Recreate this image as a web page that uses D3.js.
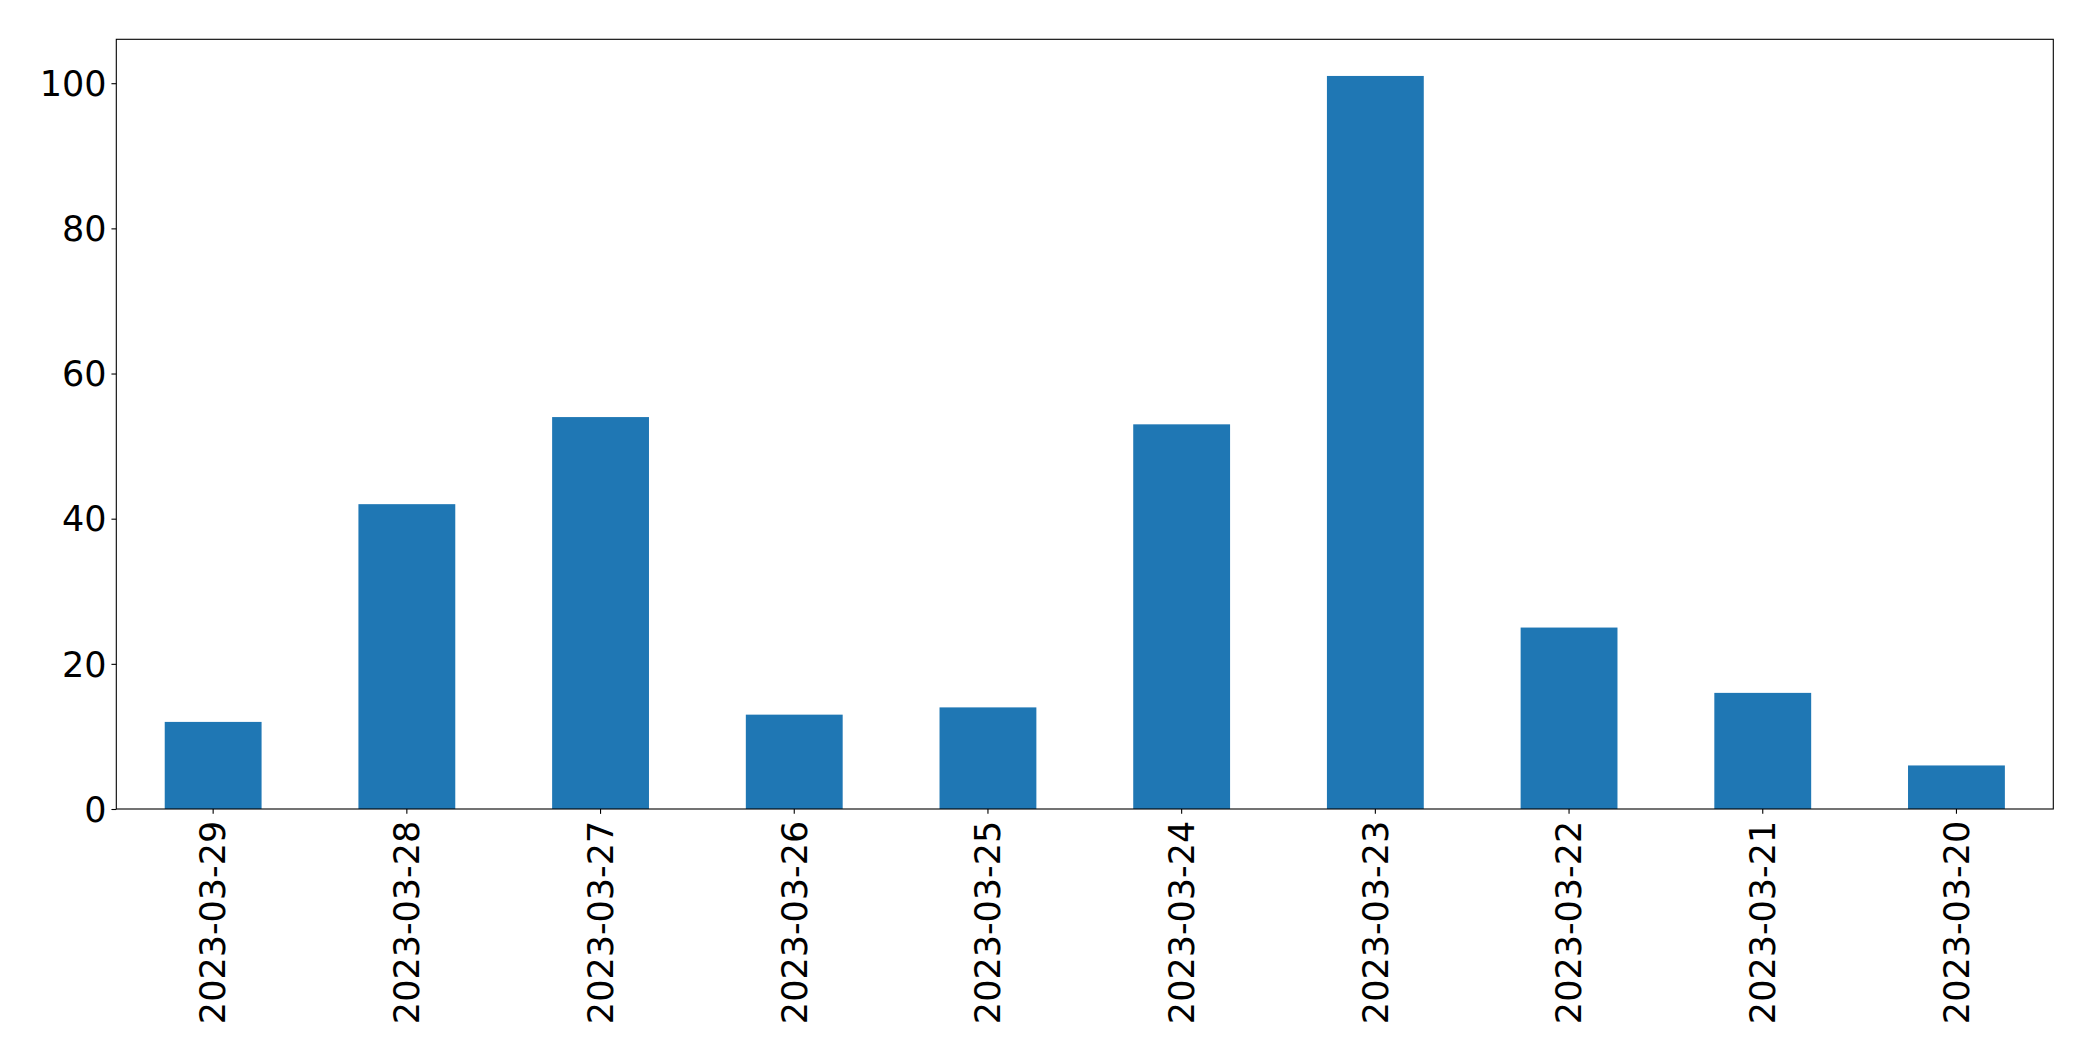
<!DOCTYPE html>
<html>
<head>
<meta charset="utf-8">
<script src="https://cdn.jsdelivr.net/npm/d3@7"></script>
<style>
  html, body { margin: 0; padding: 0; background: #fff; }
  svg { display: block; }
  text { font-family: "DejaVu Sans", sans-serif; fill: #000; }
</style>
</head>
<body>
<script>
const categories = ["2023-03-29","2023-03-28","2023-03-27","2023-03-26","2023-03-25","2023-03-24","2023-03-23","2023-03-22","2023-03-21","2023-03-20"];
const values = [12, 42, 54, 13, 14, 53, 101, 25, 16, 6];
const yTicks = [0, 20, 40, 60, 80, 100];

(function () {
const W = 2093, H = 1061;
const mLeft = 116.3, mRight = 2053.3, mTop = 39.3, mBottom = 809;
const fontSize = 35;
const tickLen = 4.86, pad = 4.86;

const svg = d3.select("body").append("svg").attr("width", W).attr("height", H);

const x = d3.scaleBand().domain(categories).range([mLeft, mRight]).paddingInner(0.5).paddingOuter(0.25);
const yMax = d3.max(values) * 1.05;
const y = d3.scaleLinear().domain([0, yMax]).range([mBottom, mTop]);

svg.append("g").selectAll("rect").data(values).join("rect")
  .attr("x", (d, i) => x(categories[i]))
  .attr("width", x.bandwidth())
  .attr("y", d => y(d))
  .attr("height", d => y(0) - y(d))
  .attr("fill", "#1f77b4");

// Y axis
const yAxis = d3.axisLeft(y).tickValues(yTicks).tickSize(tickLen).tickPadding(pad).tickFormat(d3.format("d"));
const gy = svg.append("g").attr("transform", `translate(${mLeft},0)`).call(yAxis);
gy.select(".domain").remove();
gy.selectAll(".tick line").attr("stroke", "#000").attr("stroke-width", 1.1);
gy.selectAll(".tick text").attr("font-size", fontSize).attr("font-family", "DejaVu Sans").attr("dy", "0.35em");

// X axis
const xAxis = d3.axisBottom(x).tickSize(tickLen).tickPadding(pad);
const gx = svg.append("g").attr("transform", `translate(0,${mBottom})`).call(xAxis);
gx.select(".domain").remove();
gx.selectAll(".tick line").attr("stroke", "#000").attr("stroke-width", 1.1);
gx.selectAll(".tick text")
  .attr("font-size", fontSize)
  .attr("font-family", "DejaVu Sans")
  .attr("transform", `rotate(-90)`)
  .attr("x", -(tickLen + pad + 2))
  .attr("y", 0)
  .attr("dy", "0.35em")
  .attr("text-anchor", "end");

// Frame
svg.append("rect")
  .attr("x", mLeft).attr("y", mTop)
  .attr("width", mRight - mLeft).attr("height", mBottom - mTop)
  .attr("fill", "none").attr("stroke", "#000").attr("stroke-width", 1.1);
})();
</script>
</body>
</html>
